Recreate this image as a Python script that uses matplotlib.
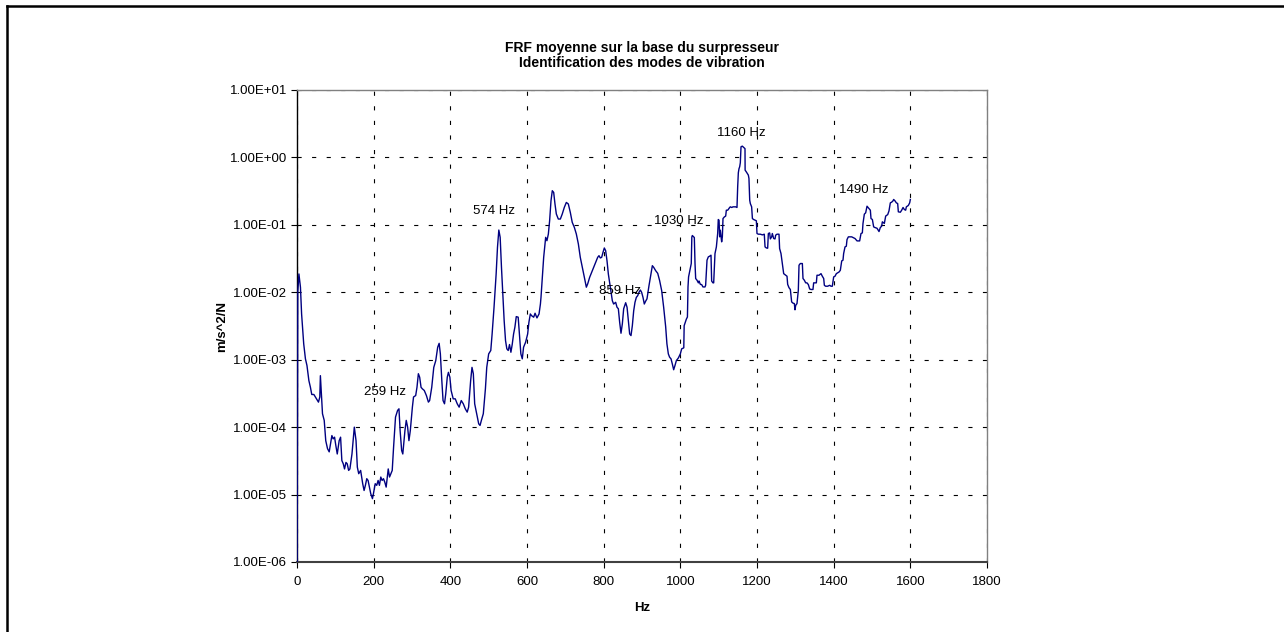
import matplotlib
matplotlib.use("Agg")
import matplotlib.pyplot as plt
from matplotlib.ticker import FixedLocator, FuncFormatter
import numpy as np

plt.rcParams['font.family'] = ['Liberation Sans', 'DejaVu Sans']
plt.rcParams['lines.scale_dashes'] = False

# Averaged FRF on the blower base: frequency (Hz) and amplitude (m/s^2/N)
freq_hz = [
    0, 2, 5, 9, 12, 17.5, 22, 26, 31, 35, 38.5, 44, 48, 52.5, 56, 59.5, 61, 64, 66.5, 71,
    75, 79.6, 84, 87.5, 91, 94.4, 98, 101.4, 105, 110, 113.7, 117, 120.7, 124, 127.7, 131, 134.7, 138, 143.4, 149.5,
    154, 157.4, 161, 166, 171.4, 175, 178.4, 182, 185.4, 189, 192.4, 196.8, 199.4, 204, 208, 211.6, 215, 218.6, 222, 225.6,
    229, 232.6, 238, 241.4, 245, 248.4, 252, 257, 262.4, 266, 269, 273, 276, 281.6, 285, 288.6, 292, 295.6, 301, 304,
    309.6, 313, 316.6, 320, 323.6, 327, 332, 337.6, 342.8, 346, 351.5, 356.8, 362, 367, 370.8, 374, 377.8, 381, 384.8, 388,
    392, 395, 398.8, 402, 407.5, 412.8, 418, 423, 428.5, 433.8, 439, 444, 447.7, 453, 456.5, 460, 463.5, 468.7, 474, 477.5,
    481, 486, 491.5, 495, 500, 505.5, 509, 514, 519.5, 523, 526.5, 530, 533.4, 537, 540.4, 544, 547.4, 551, 554.4, 558,
    561.4, 565, 568.4, 572, 577, 580.7, 584, 587.7, 591, 596.4, 601.7, 605, 608.7, 612, 617.4, 621, 626, 631.4, 635,
    636.5, 640, 643.5, 648.7, 652, 655.7, 659, 662.6, 666, 669.6, 673, 676.5, 681.7, 687, 692, 697.4, 702.6, 707.8, 713, 718,
    723.5, 728.7, 734, 739, 744.4, 749.6, 754.8, 758.3, 763.5, 768.7, 774, 779, 784.4, 787.8, 791.3, 794.8, 798.3, 801.7, 805.2, 808.7,
    812.2, 817.4, 822.6, 826, 831.3, 834.8, 838.3, 841.7, 845.2, 848.7, 852.2, 857.4, 861, 864.3, 867.8, 871.3, 874.8, 878.3, 881.7, 885.2,
    888.7, 892.2, 895.7, 899, 902.6, 906, 909.6, 913, 918.3, 923.5, 927, 930.4, 935.7, 941, 946, 951.3, 956.5, 961.7, 965, 968.7,
    972, 975.7, 979, 982.6, 986, 989.6, 994.8, 1000,
    1003.5, 1009, 1010, 1015.7, 1018.5, 1020, 1021.5, 1025, 1028.5, 1030, 1031.3, 1036.5, 1038.3, 1040, 1043.5, 1047, 1048.7, 1052.2, 1055.7, 1059,
    1064.3, 1066, 1069.6, 1073, 1076.5, 1080, 1081.7, 1085, 1087, 1090.4, 1094, 1097.4, 1099, 1101, 1102.6, 1104.3, 1107.8, 1109.6, 1111.3, 1114.8,
    1118.3, 1120, 1123.5, 1125, 1128.7, 1130.4, 1134, 1137.4, 1141, 1144.3, 1147.8, 1149.6, 1151.3, 1153, 1154.8, 1156.5, 1158.3, 1161.7, 1165.2, 1168.7,
    1169, 1172, 1177.4, 1179, 1181, 1182.6, 1186, 1188, 1191.3, 1198.3, 1200, 1203.5, 1208.7, 1214, 1219, 1221, 1224.3, 1227.8, 1229.6, 1233,
    1234.8, 1238.3, 1240, 1243.5, 1247, 1248.7, 1252.2, 1257.4, 1259, 1262.6, 1266, 1269.6, 1274.8, 1278.3, 1280, 1283.5, 1287, 1290.4, 1294, 1297.4,
    1299.1, 1301, 1304.3, 1307.8, 1309.6, 1313, 1318.3, 1320, 1323.5, 1327, 1330.4, 1334, 1337.4, 1341, 1346, 1347.8, 1351.3, 1354.8, 1356.5, 1361.7,
    1367, 1370.4, 1374, 1375.7, 1379, 1384.3, 1389.6, 1393, 1396.5, 1400, 1403.5, 1407, 1410.4, 1414, 1417.4, 1421, 1424.3, 1426, 1429.6, 1433,
    1434.8, 1438.3, 1441.7, 1447, 1450.4, 1455.7, 1461, 1467.8, 1471.3, 1474.8, 1476.5, 1480, 1483.5, 1487, 1492, 1495.7, 1497.4, 1501, 1504.3, 1507.8,
    1513, 1518.3, 1521.7, 1525.2, 1527, 1532.2, 1535.7, 1541, 1544.3, 1547.8, 1551.3, 1554.8, 1556.5, 1560, 1563.5, 1567, 1568.7, 1574, 1577.4, 1581,
    1584.3, 1587.8, 1589.6, 1594.8, 1598.3, 1600,
]

frf_amp = [
    1e-7, 0.0100, 0.0187, 0.0119, 0.00477, 0.00172, 0.00103, 8.2e-4, 4.9e-4, 3.9e-4, 3.05e-4, 3.05e-4, 2.8e-4, 2.54e-4, 2.35e-4, 2.8e-4, 5.8e-4, 2.8e-4, 1.58e-4, 1.26e-4,
    6.3e-5, 4.8e-5, 4.3e-5, 5.7e-5, 7.5e-5, 6.7e-5, 7.1e-5, 5.3e-5, 4.0e-5, 6.3e-5, 7.1e-5, 3.2e-5, 2.86e-5, 2.4e-5, 3.0e-5, 2.86e-5, 2.28e-5, 2.4e-5, 4.0e-5, 1.0e-4,
    6.3e-5, 2.55e-5, 2.04e-5, 2.28e-5, 1.45e-5, 1.15e-5, 1.37e-5, 1.72e-5, 1.62e-5, 1.29e-5, 1.03e-5, 8.7e-6, 1.03e-5, 1.45e-5, 1.37e-5, 1.62e-5, 1.37e-5, 1.82e-5, 1.62e-5, 1.72e-5,
    1.53e-5, 1.29e-5, 2.4e-5, 1.82e-5, 2.04e-5, 2.28e-5, 5.1e-5, 1.41e-4, 1.77e-4, 1.87e-4, 8.9e-5, 4.5e-5, 4.0e-5, 8.9e-5, 1.26e-4, 1.0e-4, 6.3e-5, 8.9e-5, 1.98e-4, 2.8e-4,
    2.94e-4, 3.9e-4, 6.2e-4, 5.5e-4, 3.9e-4, 3.7e-4, 3.5e-4, 2.94e-4, 2.35e-4, 2.48e-4, 3.9e-4, 7.7e-4, 9.7e-4, 1.53e-3, 1.75e-3, 1.22e-3, 4.9e-4, 2.48e-4, 2.22e-4, 3.1e-4,
    5.5e-4, 6.5e-4, 5.5e-4, 3.5e-4, 2.63e-4, 2.63e-4, 2.22e-4, 1.98e-4, 2.48e-4, 2.22e-4, 1.87e-4, 1.67e-4, 1.98e-4, 4.9e-4, 7.7e-4, 6.2e-4, 2.22e-4, 1.58e-4, 1.12e-4, 1.06e-4,
    1.26e-4, 1.58e-4, 3.7e-4, 7.7e-4, 1.22e-3, 1.37e-3, 2.41e-3, 6.0e-3, 0.0187, 0.0464, 0.0838, 0.0653, 0.0235, 9.4e-3, 3.8e-3, 1.92e-3, 1.45e-3, 1.37e-3, 1.68e-3, 1.29e-3,
    1.68e-3, 2.41e-3, 3.03e-3, 4.36e-3, 4.27e-3, 2.16e-3, 1.22e-3, 1.03e-3, 1.53e-3, 1.82e-3, 2.41e-3, 3.6e-3, 4.77e-3, 4.5e-3, 4.27e-3, 4.89e-3, 4.17e-3, 4.77e-3, 6.7e-3,
    8.4e-3, 0.0167, 0.033, 0.0653, 0.0582, 0.0731, 0.115, 0.228, 0.321, 0.303, 0.204, 0.145, 0.122, 0.122, 0.145, 0.182, 0.215, 0.204, 0.153, 0.109,
    0.0918, 0.0731, 0.052, 0.033, 0.0235, 0.0167, 0.0119, 0.0133, 0.0167, 0.0198, 0.0235, 0.0278, 0.033, 0.0349, 0.0323, 0.033, 0.0392, 0.0454, 0.0414, 0.0294,
    0.0187, 0.0119, 7.5e-3, 6.7e-3, 7.1e-3, 6.0e-3, 5.7e-3, 3.6e-3, 2.47e-3, 3.4e-3, 5.7e-3, 7.0e-3, 6.0e-3, 3.8e-3, 2.41e-3, 2.28e-3, 3.2e-3, 5.3e-3, 7.1e-3, 8.4e-3,
    8.9e-3, 0.0100, 0.0108, 0.0100, 8.4e-3, 6.7e-3, 7.4e-3, 8.0e-3, 0.0126, 0.0187, 0.0248, 0.0235, 0.0209, 0.0191, 0.0149, 0.0106, 6.0e-3, 3.1e-3, 1.72e-3, 1.22e-3,
    1.09e-3, 1.03e-3, 8.7e-4, 7.1e-4, 8.2e-4, 9.7e-4, 1.06e-3, 1.22e-3,
    1.45e-3, 1.5e-3, 3.2e-3, 4.0e-3, 4.3e-3, 0.0120, 0.0169, 0.0212, 0.0267, 0.066, 0.0695, 0.0649, 0.0267, 0.0160, 0.0151, 0.0138, 0.0147, 0.0131, 0.0130, 0.0120,
    0.0120, 0.0127, 0.0299, 0.0335, 0.0343, 0.0355, 0.0147, 0.0138, 0.0138, 0.0375, 0.0471, 0.0744, 0.120, 0.117, 0.0664, 0.0834, 0.056, 0.0664, 0.124, 0.131,
    0.135, 0.165, 0.165, 0.169, 0.181, 0.185, 0.181, 0.185, 0.185, 0.185, 0.181, 0.367, 0.592, 0.679, 0.727, 0.834, 1.44, 1.47, 1.41, 1.35,
    0.648, 0.612, 0.547, 0.488, 0.232, 0.207, 0.185, 0.124, 0.120, 0.115, 0.0744, 0.0727, 0.0727, 0.0710, 0.0727, 0.0471, 0.0455, 0.0450, 0.0744, 0.0760,
    0.0619, 0.0664, 0.0744, 0.0627, 0.0619, 0.0703, 0.0727, 0.0727, 0.0445, 0.0375, 0.0267, 0.0189, 0.0179, 0.0173, 0.0131, 0.0117, 0.0110, 7.2e-3, 6.9e-3, 6.8e-3,
    5.5e-3, 6.4e-3, 6.8e-3, 0.0107, 0.0252, 0.0267, 0.0267, 0.0160, 0.0151, 0.0138, 0.0138, 0.0130, 0.0112, 0.0110, 0.0110, 0.0138, 0.0138, 0.0138, 0.0179, 0.0179,
    0.0189, 0.0173, 0.0160, 0.0127, 0.0123, 0.0123, 0.0127, 0.0123, 0.0123, 0.0169, 0.0173, 0.0189, 0.0194, 0.0200, 0.0212, 0.0292, 0.0299, 0.0375, 0.0471, 0.0482,
    0.0605, 0.0664, 0.0664, 0.0664, 0.0649, 0.0627, 0.0578, 0.0578, 0.0744, 0.0760, 0.105, 0.144, 0.151, 0.189, 0.175, 0.165, 0.124, 0.120, 0.0934, 0.0912,
    0.0891, 0.0796, 0.0912, 0.0955, 0.111, 0.105, 0.135, 0.142, 0.161, 0.212, 0.217, 0.227, 0.238, 0.227, 0.212, 0.207, 0.156, 0.154, 0.165, 0.181,
    0.169, 0.165, 0.185, 0.194, 0.212, 0.238,
]

# Mode labels placed near the resonance peaks
mode_labels = ["574 Hz", "259 Hz", "859 Hz", "1030 Hz", "1160 Hz", "1490 Hz"]
mode_label_x = [514, 230, 843, 997, 1158, 1479]
mode_label_y = [0.16, 3.3e-4, 0.0104, 0.114, 2.3, 0.33]

x_ticks = [0, 200, 400, 600, 800, 1000, 1200, 1400, 1600, 1800]
y_ticks = [1e-6, 1e-5, 1e-4, 1e-3, 1e-2, 1e-1, 1e0, 1e1]

title_lines = ["FRF moyenne sur la base du surpresseur", "Identification des modes de vibration"]

W, H = 1284, 632
fig = plt.figure(figsize=(W / 100, H / 100), dpi=100)
fig.patch.set_facecolor("white")

ax = fig.add_axes([297 / W, 1 - 562 / H, (987 - 297) / W, (562 - 90) / H])
ax.set_yscale("log")
ax.set_xlim(0, 1800)
ax.set_ylim(1e-6, 1e1)

ax.plot(freq_hz, frf_amp, color="#000080", lw=1.0, solid_joinstyle="round", zorder=3)

ax.xaxis.set_major_locator(FixedLocator(x_ticks))
ax.yaxis.set_major_locator(FixedLocator(y_ticks))
ax.yaxis.set_minor_locator(FixedLocator([]))
ax.yaxis.set_major_formatter(FuncFormatter(lambda v, p: f"{v:.2E}"))
ax.xaxis.set_major_formatter(FuncFormatter(lambda v, p: f"{int(v)}"))

ax.grid(True, which="major", color="black", lw=0.8, linestyle=(0, (3.0, 7.5)), zorder=1)

ax.tick_params(axis="both", which="major", direction="out", length=4, width=0.8,
               labelsize=9.5, colors="black", pad=3)
ax.tick_params(axis="x", pad=6)

for side in ("top", "right"):
    ax.spines[side].set_color("#808080")
    ax.spines[side].set_linewidth(1.0)
ax.spines["left"].set_color("black")
ax.spines["left"].set_linewidth(1.0)
ax.spines["bottom"].set_color("#404040")
ax.spines["bottom"].set_linewidth(1.5)

ax.set_xlabel("Hz", fontsize=9.5, fontweight="bold", labelpad=10)
ax.set_ylabel("m/s^2/N", fontsize=9.5, fontweight="bold", labelpad=1)

for txt, lx, ly in zip(mode_labels, mode_label_x, mode_label_y):
    ax.text(lx, ly, txt, fontsize=9.5, ha="center", va="center", color="black", zorder=4)

fig.text(642 / W, 1 - 48 / H, title_lines[0], ha="center", va="center", fontsize=10, fontweight="bold")
fig.text(642 / W, 1 - 63 / H, title_lines[1], ha="center", va="center", fontsize=10, fontweight="bold")

# Chart frame
fig.add_artist(plt.Line2D([7 / W, 7 / W], [0, 1 - 6 / H], transform=fig.transFigure, color="black", lw=1.8))
fig.add_artist(plt.Line2D([7 / W, 1], [1 - 6 / H, 1 - 6 / H], transform=fig.transFigure, color="black", lw=1.8))

fig.savefig("out.png", dpi=100, facecolor="white")
